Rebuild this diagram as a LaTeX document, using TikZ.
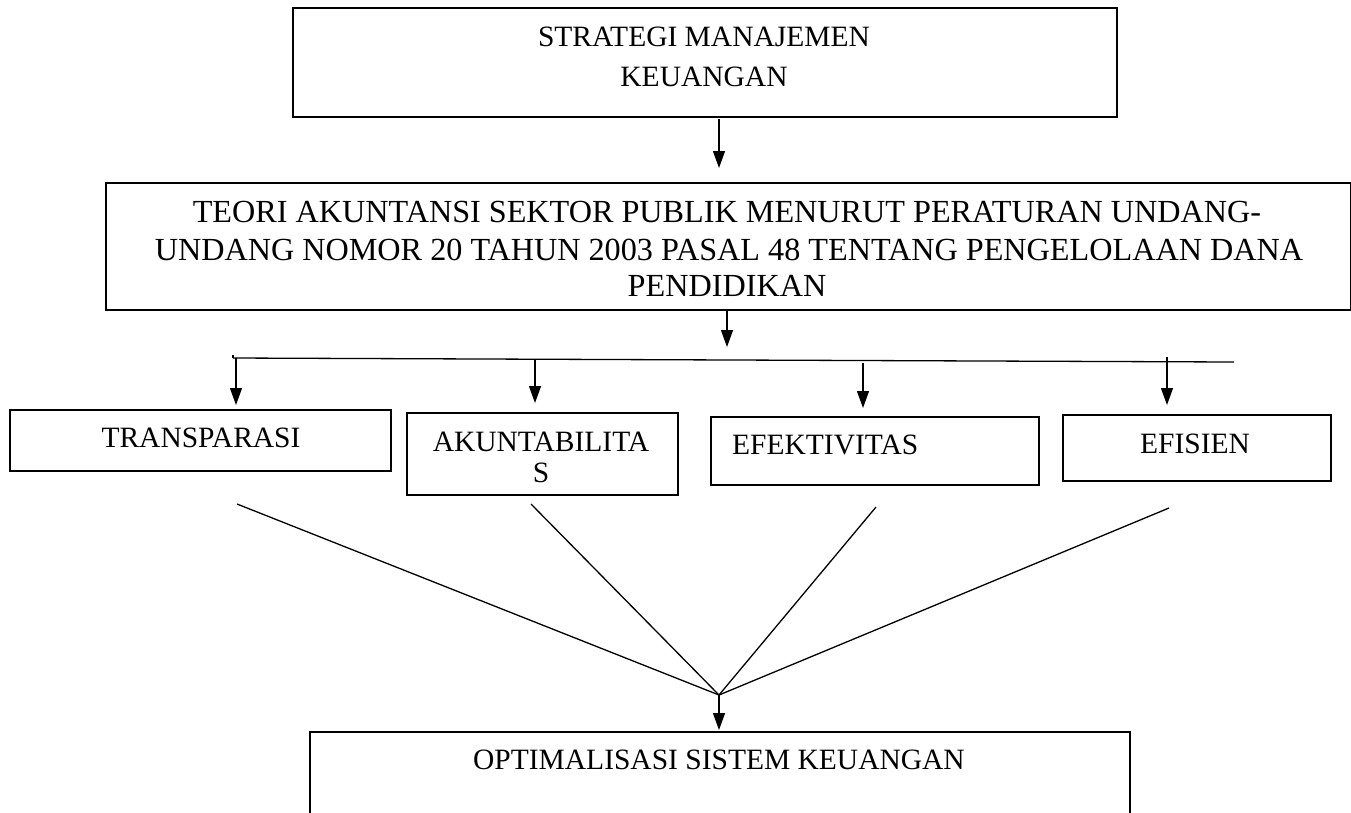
\documentclass[tikz,border=0pt]{standalone}
\usepackage{fontspec}
\setmainfont{Liberation Serif}
\usetikzlibrary{arrows.meta}
\begin{document}
\begin{tikzpicture}[x=1pt,y=-1pt,
  box/.style={draw, line width=1.6pt, rectangle, inner sep=0pt, anchor=north west},
  lbl/.style={font=\fontsize{29.5}{35}\selectfont, anchor=base, inner sep=0pt},
  lblbig/.style={lbl, font=\fontsize{32.2}{38}\selectfont},
  lbll/.style={lbl, anchor=base west},
  conn/.style={line width=1.3pt},
  arr/.style={conn, -{Triangle[length=17pt,width=12pt]}}]
\useasboundingbox (0,0) rectangle (1351,812);
% boxes
\node[box, minimum width=824pt, minimum height=109pt] (top) at (292,7) {};
\node[box, minimum width=1245pt, minimum height=127pt] (mid) at (105,182) {};
\node[box, minimum width=381pt, minimum height=61pt] (tra) at (9,409) {};
\node[box, minimum width=271pt, minimum height=82pt] (aku) at (406,412) {};
\node[box, minimum width=328pt, minimum height=68pt] (efe) at (710,416) {};
\node[box, minimum width=268pt, minimum height=66pt] (efi) at (1062,414) {};
\node[box, minimum width=820pt, minimum height=130pt] (opt) at (309,731) {};
% texts
\node[lbl] (t1) at (704,46) {STRATEGI MANAJEMEN};
\node[lbl] (t2) at (704,86) {KEUANGAN};
\node[lblbig] (m1) at (727,222) {TEORI AKUNTANSI SEKTOR PUBLIK MENURUT PERATURAN UNDANG-};
\node[lblbig] (m2) at (729,260) {UNDANG NOMOR 20 TAHUN 2003 PASAL 48 TENTANG PENGELOLAAN DANA};
\node[lblbig] (m3) at (727,296) {PENDIDIKAN};
\node[lbl] (ttra) at (201,447) {TRANSPARASI};
\node[lbl] (taku1) at (541,451) {AKUNTABILITA};
\node[lbl] (taku2) at (541,482) {S};
\node[lbll] (tefe) at (732,454) {EFEKTIVITAS};
\node[lbl] (tefi) at (1195,453) {EFISIEN};
\node[lbl] (topt) at (719,769) {OPTIMALISASI SISTEM KEUANGAN};
% connector points
\coordinate (a1s) at (719,119);
\coordinate (a1e) at (719,168);
\coordinate (a2s) at (727,309);
\coordinate (a2e) at (727,347);
\coordinate (hL) at (233,358);
\coordinate (hR) at (1234,362);
\coordinate (b1s) at (236,358.1);
\coordinate (b1e) at (236,405);
\coordinate (b2s) at (535,359.2);
\coordinate (b2e) at (535,403);
\coordinate (b3s) at (863,363);
\coordinate (b3e) at (863,408);
\coordinate (b4s) at (1167,357);
\coordinate (b4e) at (1167,405);
\coordinate (c1) at (237,504);
\coordinate (c2) at (531,504);
\coordinate (c3) at (876,507);
\coordinate (c4) at (1169,508);
\coordinate (conv) at (719,695);
\coordinate (ce) at (719,730);
% connectors
\draw[arr] (a1s) -- (a1e);
\draw[arr] (a2s) -- (a2e);
\draw[conn] (hL) -- (hR);
\draw[conn] (hL) -- ++(0,-3);
\draw[arr] (b1s) -- (b1e);
\draw[arr] (b2s) -- (b2e);
\draw[arr] (b3s) -- (b3e);
\draw[arr] (b4s) -- (b4e);
\draw[conn] (c1) -- (conv);
\draw[conn] (c2) -- (conv);
\draw[conn] (c3) -- (conv);
\draw[conn] (c4) -- (conv);
\draw[arr] (conv) -- (ce);
\end{tikzpicture}
\end{document}
